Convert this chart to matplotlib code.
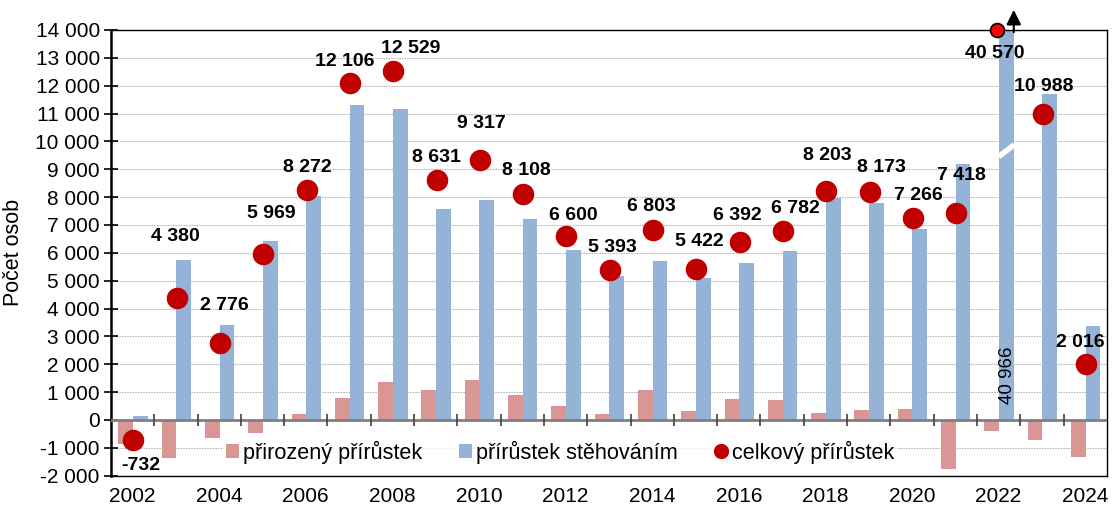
import numpy as np
import matplotlib
matplotlib.use('Agg')
import matplotlib.pyplot as plt
from matplotlib.patches import Patch
from matplotlib.lines import Line2D
from matplotlib.ticker import FuncFormatter

plt.rcParams['font.family'] = ['Liberation Sans', 'DejaVu Sans']

years = list(range(2002, 2025))
natural = [-860, -1370, -650, -470, 220, 790, 1380, 1060, 1420, 900, 510, 220,
           1080, 330, 750, 730, 250, 370, 400, -1760, -396, -710, -1340]
migration = [128, 5750, 3426, 6439, 8052, 11316, 11149, 7571, 7897, 7208, 6090,
             5173, 5723, 5092, 5642, 6052, 7953, 7803, 6866, 9178, 40966, 11698, 3356]
total = [-732, 4380, 2776, 5969, 8272, 12106, 12529, 8631, 9317, 8108, 6600, 5393,
         6803, 5422, 6392, 6782, 8203, 8173, 7266, 7418, 40570, 10988, 2016]
legend_labels = ['přirozený přírůstek', 'přírůstek stěhováním', 'celkový přírůstek']
ylabel = 'Počet osob'

# label offsets in pixels (dx, dy) relative to the dot
label_off = [(7, -25), (-1, 61), (4, 37), (8, 40), (1, 22), (-5, 21), (17, 22),
             (0, 22), (1, 37), (3, 24), (7, 21), (3, 22), (-2, 24), (3, 27),
             (-2, 26), (12, 23), (1, 36), (12, 25), (5, 22), (5, 38), (-5, -24),
             (1, 27), (-6, 21)]

PINK = '#D99694'
BLUE = '#95B3D7'
RED = '#C00000'
YMIN, YMAX = -2000, 14000


def fmt(v):
    return '{:,}'.format(int(v)).replace(',', ' ')


fig = plt.figure(figsize=(11.14, 5.08), dpi=100)
ax = fig.add_axes([0.0996, 0.0636, 0.894, 0.8774])
x = np.arange(len(years))
ax.set_xlim(-0.5, len(years) - 0.5)
ax.set_ylim(YMIN, YMAX)

ax.set_yticks(np.arange(YMIN, YMAX + 1, 1000))
ax.yaxis.set_major_formatter(FuncFormatter(lambda v, p: fmt(v)))
ax.grid(axis='y', color='#A6A6A6', linestyle=(0, (1.2, 1.2)), linewidth=0.8)
ax.set_axisbelow(True)

ax.bar(x - 0.16, natural, width=0.34, color=PINK, zorder=2)
ax.bar(x + 0.18, migration, width=0.34, color=BLUE, zorder=2)

# zero line and category boundary ticks
ax.axhline(0, color='#7F7F7F', linewidth=2, zorder=3)
ax.vlines(x[1:] - 0.5, -220, 220, color='#404040', linewidth=1.2, zorder=3)

# break mark on 2022 migration bar
i22 = years.index(2022)
ax.plot([x[i22] + 0.0, x[i22] + 0.36], [9450, 9880], color='white',
        linewidth=4, solid_capstyle='butt', zorder=4)
ax.text(x[i22] + 0.2, 1600, fmt(migration[i22]), rotation=90, ha='center',
        va='center', fontsize=13.5, zorder=5)

for i, v in enumerate(total):
    if v > YMAX:
        ax.plot(x[i] - 0.04, YMAX, 'o', markersize=10, color='#FF0000',
                markeredgecolor='black', markeredgewidth=1.2, zorder=6,
                clip_on=False)
        yv = YMAX
    else:
        ax.plot(x[i] + 0.02, v, 'o', markersize=14.5, color=RED, zorder=6,
                clip_on=False)
        yv = v
    dx, dy = label_off[i]
    ax.annotate(fmt(v), xy=(x[i] + 0.02, yv), xytext=(dx, dy),
                textcoords='offset pixels', ha='center', va='center',
                fontsize=14, fontweight='bold', zorder=7)

ax.annotate('', xy=(x[i22] + 0.35, 1.045), xytext=(x[i22] + 0.35, 0.995),
            xycoords=('data', 'axes fraction'),
            textcoords=('data', 'axes fraction'),
            arrowprops=dict(arrowstyle='-|>', color='black', lw=1.5,
                            mutation_scale=22, shrinkA=0, shrinkB=0),
            annotation_clip=False)

even = [i for i, y in enumerate(years) if y % 2 == 0]
ax.set_xticks(x[even])
ax.set_xticklabels([str(years[i]) for i in even], fontsize=15)
ax.tick_params(axis='x', length=0, pad=8)
ax.tick_params(axis='y', direction='inout', length=10, width=1.2, labelsize=15,
               pad=3)
ax.set_ylabel(ylabel, fontsize=15.5, labelpad=8)

for s in ['top', 'right', 'bottom']:
    ax.spines[s].set_linewidth(1.0)
ax.spines['left'].set_linewidth(1.8)

handles = [Patch(facecolor=PINK), Patch(facecolor=BLUE),
           Line2D([], [], marker='o', linestyle='none', color=RED, markersize=10)]
leg = ax.legend(handles, legend_labels, loc='center', ncol=3,
                bbox_to_anchor=(0.451, 0.053), frameon=True, fontsize=15.6,
                handlelength=0.6, handleheight=0.6, handletextpad=0.2,
                columnspacing=1.7, borderpad=0.1, fancybox=False)
leg.get_frame().set_facecolor('white')
leg.get_frame().set_edgecolor('none')
leg.set_zorder(8)

fig.savefig('out.png', dpi=100)
